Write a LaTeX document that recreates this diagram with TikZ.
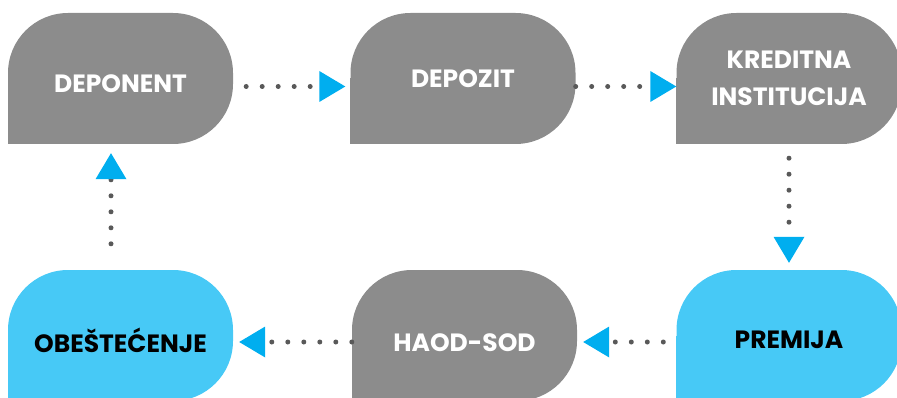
\documentclass[tikz,border=0pt]{standalone}
\usepackage{fontspec}
\setmainfont{Poppins}
\usetikzlibrary{arrows.meta,backgrounds}
\definecolor{boxgray}{HTML}{8C8C8C}
\definecolor{boxcyan}{HTML}{47C9F6}
\definecolor{tipcyan}{HTML}{00AEEF}
\definecolor{dotgray}{HTML}{595959}
\newcommand\droptext[2]{\raisebox{-#1}[\height][\depth]{#2}}
\tikzset{
  blob/.style={rectangle, minimum width=225pt, minimum height=131pt, rounded corners=60pt,
    inner sep=0pt, align=center, font=\fontsize{25}{37}\selectfont\bfseries},
  greyblob/.style={blob, fill=boxgray, text=white},
  cyanblob/.style={blob, fill=boxcyan, text=black},
  flow/.style={draw=dotgray, line width=5pt, line cap=round, dash pattern=on 0pt off 16pt,
    -{Triangle[length=26pt,width=31pt,line width=0pt,color=tipcyan]}}
}
\begin{document}
\begin{tikzpicture}[x=1pt,y=-1pt]
\useasboundingbox (0,0) rectangle (897,398);
\clip (0,0) rectangle (897,398);
\node[greyblob] (dep) at (120.5,78.5){\droptext{5pt}{DEPONENT}};
\node[greyblob] (depz) at (463,78.5){DEPOZIT};
\node[greyblob] (kred) at (789,78.5){KREDITNA\\INSTITUCIJA};
\node[cyanblob] (prem) at (789,335.5){\droptext{4.5pt}{PREMIJA}};
\node[greyblob] (haod) at (464.5,335.5){\droptext{7.5pt}{HAOD-SOD}};
\node[cyanblob] (ob) at (120.5,335.5){\droptext{4.5pt}{OBEŠTEĆENJE}};
% square lower left corners
\begin{pgfonlayer}{background}
\foreach \n/\c in {dep/boxgray, depz/boxgray, kred/boxgray, prem/boxcyan, haod/boxgray, ob/boxcyan}
  \fill[\c] (\n.south west) rectangle (\n.center);
\end{pgfonlayer}
\draw[flow, shorten <=13pt, shorten >=5pt] ([yshift=-8pt]dep.east) -- ([yshift=-8pt]depz.west);
\draw[flow] ([yshift=-8pt]depz.east) -- ([yshift=-8pt]kred.west);
\draw[flow, shorten <=14pt, shorten >=7pt] (kred.south) -- (prem.north);
\draw[flow, shorten <=13pt, shorten >=6pt] ([yshift=-6.5pt]prem.west) -- ([yshift=-6.5pt]haod.east);
\draw[flow, shorten >=6pt] ([yshift=-6.5pt]haod.west) -- ([yshift=-6.5pt]ob.east);
\draw[flow, shorten <=26pt, shorten >=9pt] ([xshift=-9.5pt]ob.north) -- ([xshift=-9.5pt]dep.south);
\end{tikzpicture}
\end{document}
